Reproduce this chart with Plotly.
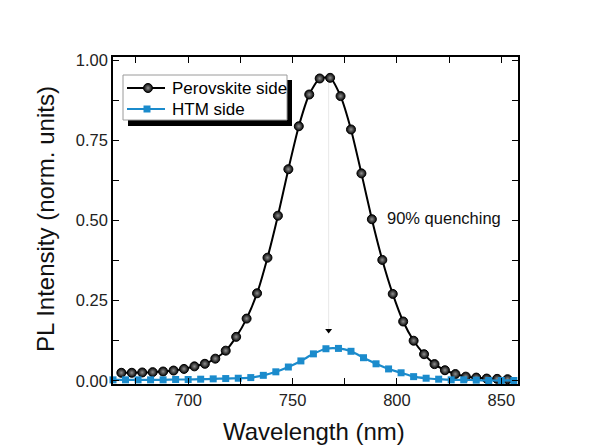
import plotly.graph_objects as go

# Photoluminescence spectra, normalised
perovskite_nm = [668 + 5 * i for i in range(38)]
perovskite_pl = [0.025, 0.025, 0.026, 0.027, 0.029, 0.032, 0.037, 0.045, 0.053, 0.069,
                 0.094, 0.137, 0.194, 0.273, 0.384, 0.515, 0.660, 0.794, 0.893, 0.943,
                 0.945, 0.888, 0.784, 0.647, 0.504, 0.377, 0.271, 0.185, 0.125, 0.083,
                 0.052, 0.033, 0.021, 0.013, 0.010, 0.007, 0.006, 0.005]

htm_nm = [664 + 6 * i for i in range(33)]
htm_pl = [0.003, 0.003, 0.003, 0.003, 0.003, 0.004, 0.004, 0.005, 0.006, 0.007,
          0.008, 0.010, 0.017, 0.028, 0.043, 0.062, 0.084, 0.100, 0.101, 0.092,
          0.072, 0.053, 0.037, 0.025, 0.013, 0.008, 0.005, 0.003, 0.003, 0.002,
          0.001, 0.001, 0.001]

series_names = ["Perovskite side", "HTM side"]
x_ticks = [700, 750, 800, 850]
y_ticks = [0.00, 0.25, 0.50, 0.75, 1.00]

quench_nm = 767.3
quench_mark = 0.157

FONT = "Liberation Sans, Arial, sans-serif"
BLUE = "#1b8bcc"

# plot-area geometry in pixels
W, H = 590, 446
L, R, T, B = 113, 518, 57, 384


def paper_x(px):
    return (px - L) / (R - L)


def paper_y(py):
    return (B - py) / (B - T)


perov_marker = dict(symbol="circle", size=9, color="#050505",
                    gradient=dict(type="radial", color="#909090"),
                    line=dict(color="black", width=1))
htm_marker = dict(symbol="square", size=7, color=BLUE, line=dict(width=0))

fig = go.Figure()

# faint guide from the peak down to the quenched maximum
fig.add_trace(go.Scatter(
    x=[quench_nm, quench_nm], y=[max(perovskite_pl), quench_mark],
    mode="lines", line=dict(color="#e8e8e8", width=1),
    showlegend=False, hoverinfo="skip"))

fig.add_trace(go.Scatter(
    x=perovskite_nm, y=perovskite_pl, name=series_names[0],
    mode="lines+markers",
    line=dict(color="black", width=2, shape="spline", smoothing=0.6),
    marker=perov_marker, cliponaxis=False, showlegend=False))

fig.add_trace(go.Scatter(
    x=htm_nm, y=htm_pl, name=series_names[1],
    mode="lines+markers",
    line=dict(color=BLUE, width=2.2, shape="spline", smoothing=0.6),
    marker=htm_marker, cliponaxis=False, showlegend=False))

# small arrowhead marking the quenched peak
fig.add_trace(go.Scatter(
    x=[quench_nm], y=[quench_mark], mode="markers",
    marker=dict(symbol="triangle-down", size=6, color="black"),
    showlegend=False, hoverinfo="skip"))

fig.add_annotation(x=444, y=218, xref="x2", yref="y2",
                   text="90% quenching", showarrow=False,
                   xanchor="center", yanchor="middle",
                   font=dict(family=FONT, size=16.5, color="#111111"))

# axis titles
title_font = dict(family=FONT, size=24, color="#111111")
fig.add_annotation(x=paper_x(314), y=paper_y(431), xref="paper", yref="paper",
                   text="Wavelength (nm)", showarrow=False,
                   xanchor="center", yanchor="middle", font=title_font)
fig.add_annotation(x=paper_x(45), y=paper_y(219), xref="paper", yref="paper",
                   text="PL Intensity (norm. units)", showarrow=False,
                   xanchor="center", yanchor="middle", textangle=-90, font=title_font)

# legend box with drop shadow, laid out in pixel units on an overlay axis
box = dict(x0=123, x1=287, y0=75, y1=120)
fig.add_shape(type="rect", xref="x2", yref="y2",
              x0=box["x0"] + 5, x1=box["x1"] + 5, y0=box["y0"] + 5, y1=box["y1"] + 6,
              fillcolor="black", line=dict(width=0), layer="below")
fig.add_shape(type="rect", xref="x2", yref="y2", **box,
              fillcolor="white", line=dict(color="#9a9a9a", width=1), layer="below")

rows = [(88, "black", perov_marker, 148), (109, BLUE, htm_marker, 147)]
for (ry, col, mk, mx), label in zip(rows, series_names):
    fig.add_trace(go.Scatter(
        x=[127, 165], y=[ry, ry], xaxis="x2", yaxis="y2", mode="lines",
        line=dict(color=col, width=2), showlegend=False, hoverinfo="skip"))
    fig.add_trace(go.Scatter(
        x=[mx], y=[ry], xaxis="x2", yaxis="y2", mode="markers",
        marker=mk, showlegend=False, hoverinfo="skip"))
    fig.add_annotation(x=170, y=ry, xref="x2", yref="y2", text=label,
                       showarrow=False, xanchor="left", yanchor="middle",
                       font=dict(family=FONT, size=17, color="black"))

axis_common = dict(
    showline=True, linecolor="black", linewidth=1.5, mirror="ticks",
    ticks="inside", ticklen=6, tickwidth=1.2, tickcolor="black",
    showgrid=False, zeroline=False, automargin=False,
    tickfont=dict(family=FONT, size=16.5, color="#222222"),
)
minor_common = dict(ticks="inside", tick0=0, ticklen=6, tickwidth=1.2, tickcolor="black")

fig.update_layout(
    xaxis=dict(range=[664, 858], tickvals=x_ticks,
               minor=dict(dtick=25, **minor_common), **axis_common),
    yaxis=dict(range=[-0.01, 1.01], tickvals=y_ticks, tickformat=".2f",
               minor=dict(dtick=0.125, **minor_common), **axis_common),
    xaxis2=dict(overlaying="x", range=[L, R], visible=False, fixedrange=True),
    yaxis2=dict(overlaying="y", range=[B, T], visible=False, fixedrange=True),
    width=W, height=H,
    margin=dict(l=L, r=W - R, t=T, b=H - B),
    paper_bgcolor="white", plot_bgcolor="white",
    showlegend=False,
)

fig.write_html("out.html")
